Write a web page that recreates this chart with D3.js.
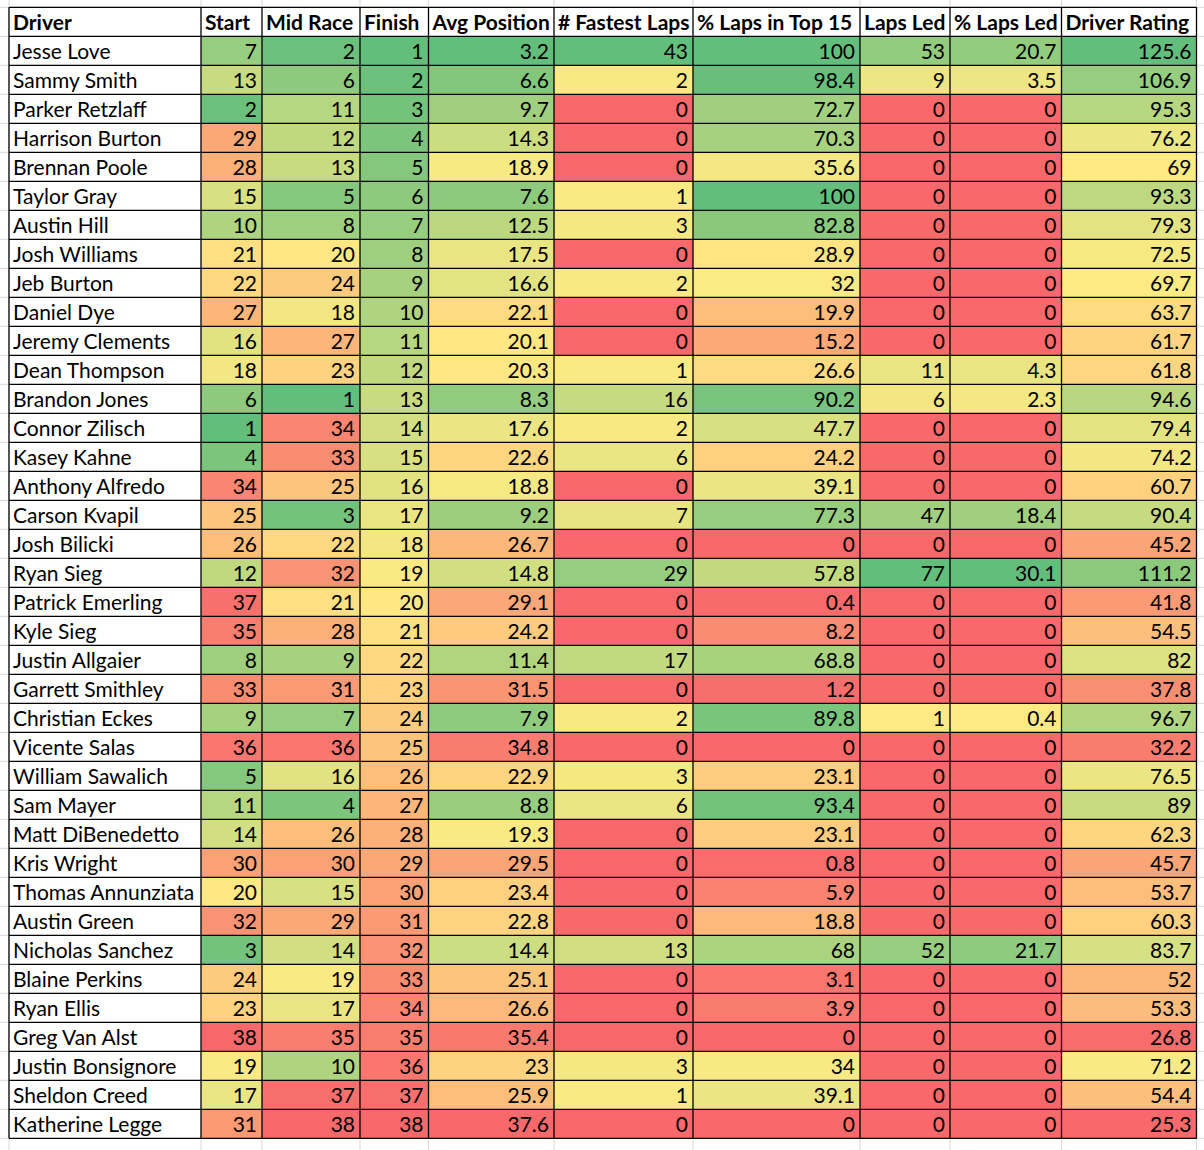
<!DOCTYPE html>
<html lang="en">
<head>
    <meta charset="UTF-8">
    <title>Driver Ratings</title>
    <script src="https://d3js.org/d3.v7.min.js"></script>
    <style>
        body { margin: 0; background: #fff; }
        svg text { font-family: Lato, "Open Sans", sans-serif; fill: #000; }
    </style>
</head>
<body>
    <div id="table"></div>

    <script>
        // table values, one array per column
        var drivers = ["Jesse Love", "Sammy Smith", "Parker Retzlaff", "Harrison Burton", "Brennan Poole",
            "Taylor Gray", "Austin Hill", "Josh Williams", "Jeb Burton", "Daniel Dye", "Jeremy Clements",
            "Dean Thompson", "Brandon Jones", "Connor Zilisch", "Kasey Kahne", "Anthony Alfredo",
            "Carson Kvapil", "Josh Bilicki", "Ryan Sieg", "Patrick Emerling", "Kyle Sieg", "Justin Allgaier",
            "Garrett Smithley", "Christian Eckes", "Vicente Salas", "William Sawalich", "Sam Mayer",
            "Matt DiBenedetto", "Kris Wright", "Thomas Annunziata", "Austin Green", "Nicholas Sanchez",
            "Blaine Perkins", "Ryan Ellis", "Greg Van Alst", "Justin Bonsignore", "Sheldon Creed",
            "Katherine Legge"];
        var start = [7, 13, 2, 29, 28, 15, 10, 21, 22, 27, 16, 18, 6, 1, 4, 34, 25, 26, 12, 37, 35, 8, 33, 9,
            36, 5, 11, 14, 30, 20, 32, 3, 24, 23, 38, 19, 17, 31];
        var midRace = [2, 6, 11, 12, 13, 5, 8, 20, 24, 18, 27, 23, 1, 34, 33, 25, 3, 22, 32, 21, 28, 9, 31, 7,
            36, 16, 4, 26, 30, 15, 29, 14, 19, 17, 35, 10, 37, 38];
        var finish = d3.range(1, 39);
        var avgPosition = [3.2, 6.6, 9.7, 14.3, 18.9, 7.6, 12.5, 17.5, 16.6, 22.1, 20.1, 20.3, 8.3, 17.6, 22.6,
            18.8, 9.2, 26.7, 14.8, 29.1, 24.2, 11.4, 31.5, 7.9, 34.8, 22.9, 8.8, 19.3, 29.5, 23.4, 22.8, 14.4,
            25.1, 26.6, 35.4, 23, 25.9, 37.6];
        var fastestLaps = [43, 2, 0, 0, 0, 1, 3, 0, 2, 0, 0, 1, 16, 2, 6, 0, 7, 0, 29, 0, 0, 17, 0, 2, 0, 3, 6,
            0, 0, 0, 0, 13, 0, 0, 0, 3, 1, 0];
        var lapsTop15 = [100, 98.4, 72.7, 70.3, 35.6, 100, 82.8, 28.9, 32, 19.9, 15.2, 26.6, 90.2, 47.7, 24.2,
            39.1, 77.3, 0, 57.8, 0.4, 8.2, 68.8, 1.2, 89.8, 0, 23.1, 93.4, 23.1, 0.8, 5.9, 18.8, 68, 3.1, 3.9,
            0, 34, 39.1, 0];
        var lapsLed = [53, 9, 0, 0, 0, 0, 0, 0, 0, 0, 0, 11, 6, 0, 0, 0, 47, 0, 77, 0, 0, 0, 0, 1, 0, 0, 0, 0,
            0, 0, 0, 52, 0, 0, 0, 0, 0, 0];
        var pctLapsLed = [20.7, 3.5, 0, 0, 0, 0, 0, 0, 0, 0, 0, 4.3, 2.3, 0, 0, 0, 18.4, 0, 30.1, 0, 0, 0, 0,
            0.4, 0, 0, 0, 0, 0, 0, 0, 21.7, 0, 0, 0, 0, 0, 0];
        var driverRating = [125.6, 106.9, 95.3, 76.2, 69, 93.3, 79.3, 72.5, 69.7, 63.7, 61.7, 61.8, 94.6, 79.4,
            74.2, 60.7, 90.4, 45.2, 111.2, 41.8, 54.5, 82, 37.8, 96.7, 32.2, 76.5, 89, 62.3, 45.7, 53.7, 60.3,
            83.7, 52, 53.3, 26.8, 71.2, 54.4, 25.3];

        var headers = ["Driver", "Start", "Mid Race", "Finish", "Avg Position", "# Fastest Laps",
            "% Laps in Top 15", "Laps Led", "% Laps Led", "Driver Rating"];
        var columns = [drivers, start, midRace, finish, avgPosition, fastestLaps, lapsTop15, lapsLed,
            pctLapsLed, driverRating];
        // true when a low number is the good one
        var lowIsGood = [null, true, true, true, true, false, false, false, false, false];

        // column edges of the spreadsheet
        var colEdges = [9, 201, 262, 360, 428.5, 554, 693, 860, 950, 1061.5, 1196.5];
        var width = 1204, height = 1150;
        var top0 = 7.3, rowH = 29;
        var nRows = drivers.length + 1;
        var fontSize = "21px", baseline = 22.8;

        var x = d3.scaleOrdinal().domain(d3.range(colEdges.length)).range(colEdges);
        var y = d3.scaleLinear().domain([0, nRows]).range([top0, top0 + nRows * rowH]);

        var svg = d3.select("#table").append("svg")
            .attr("width", width)
            .attr("height", height);

        // excel gridlines behind the table
        var grid = svg.append("g").attr("stroke", "#d9d9d9").attr("stroke-width", 1);
        colEdges.forEach(function(cx) {
            grid.append("line").attr("x1", cx).attr("x2", cx).attr("y1", 0).attr("y2", height);
        });
        d3.range(-1, nRows + 3).forEach(function(r) {
            grid.append("line").attr("x1", 0).attr("x2", width).attr("y1", y(r)).attr("y2", y(r));
        });

        // 3 colour scale like excel: red - yellow - green, middle at 50th percentile
        var red = "#f8696b", yellow = "#ffeb84", green = "#63be7b";
        function colourFor(values, flip) {
            var sorted = values.slice().sort(d3.ascending);
            var lo = sorted[0], hi = sorted[sorted.length - 1];
            var mid = d3.quantile(sorted, 0.5);
            var cLo = flip ? green : red, cHi = flip ? red : green;
            return function(v) {
                if (v <= lo) return cLo;
                if (v >= hi) return cHi;
                if (v < mid) return d3.interpolateRgb(cLo, yellow)((v - lo) / (mid - lo));
                if (hi === mid) return yellow;
                return d3.interpolateRgb(yellow, cHi)((v - mid) / (hi - mid));
            };
        }

        var table = svg.append("g");

        // cell fills
        columns.forEach(function(col, c) {
            var fill = c === 0 ? function() { return "#fff"; } : colourFor(col, lowIsGood[c]);
            table.selectAll(".cell" + c)
                .data(col)
                .enter()
                .append("rect")
                .attr("x", x(c))
                .attr("y", function(d, i) { return y(i + 1); })
                .attr("width", x(c + 1) - x(c))
                .attr("height", rowH)
                .style("fill", function(d) { return fill(d); });
        });
        // header background
        table.append("rect")
            .attr("x", x(0)).attr("y", y(0))
            .attr("width", x(columns.length) - x(0)).attr("height", rowH)
            .style("fill", "#fff");

        // black cell borders
        var borders = table.append("g").attr("stroke", "#000").attr("stroke-width", 1.3);
        colEdges.forEach(function(cx) {
            borders.append("line").attr("x1", cx).attr("x2", cx).attr("y1", y(0)).attr("y2", y(nRows));
        });
        d3.range(0, nRows + 1).forEach(function(r) {
            borders.append("line")
                .attr("x1", colEdges[0]).attr("x2", colEdges[colEdges.length - 1])
                .attr("y1", y(r)).attr("y2", y(r));
        });

        // header labels
        table.selectAll(".head")
            .data(headers)
            .enter()
            .append("text")
            .attr("x", function(d, c) { return x(c) + 4; })
            .attr("y", y(0) + baseline)
            .style("font-size", fontSize)
            .style("font-weight", "bold")
            .text(function(d) { return d; })
            .each(function(d, c) {
                var room = x(c + 1) - x(c) - 6;
                if (this.getComputedTextLength() > room) {
                    d3.select(this).attr("textLength", room).attr("lengthAdjust", "spacingAndGlyphs");
                }
            });

        // values
        columns.forEach(function(col, c) {
            table.selectAll(".val" + c)
                .data(col)
                .enter()
                .append("text")
                .attr("x", c === 0 ? x(c) + 4 : x(c + 1) - 5)
                .attr("y", function(d, i) { return y(i + 1) + baseline; })
                .attr("text-anchor", c === 0 ? "start" : "end")
                .style("font-size", fontSize)
                .text(function(d) { return d; });
        });
    </script>
</body>
</html>
